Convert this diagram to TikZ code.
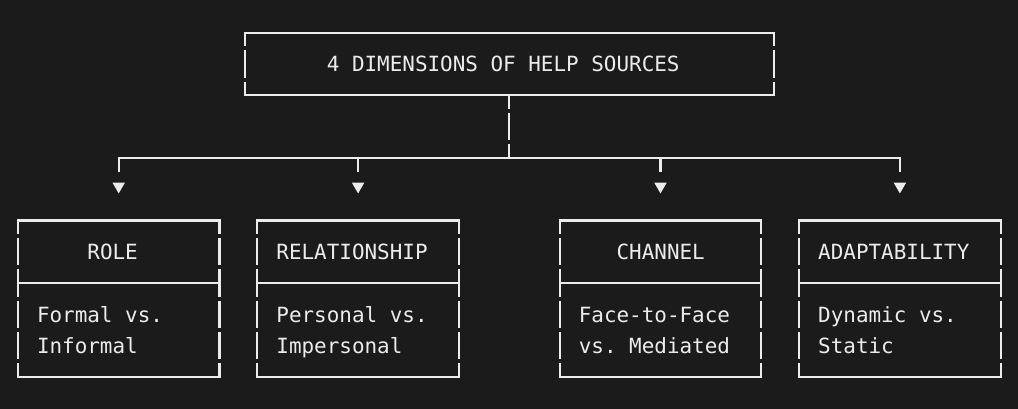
\documentclass[tikz,border=0pt]{standalone}
\usepackage{fontspec}
\setmonofont{DejaVu Sans Mono}
\usetikzlibrary{shapes.geometric}
\definecolor{bgdark}{RGB}{27,27,27}
\definecolor{ink}{RGB}{236,236,236}
\frenchspacing

\begin{document}
\begin{tikzpicture}[x=1pt, y=-1pt,
		boxline/.style={draw=ink, line width=2.2pt, line cap=rect},
		gapline/.style={draw=ink, line width=2.2pt, dash pattern=on 27.3pt off 4pt, dash phase=13.65pt},
		card/.style={rectangle, draw=none, inner sep=0pt, outer sep=0pt, minimum width=201.6pt, minimum height=156.5pt},
		arrowtip/.style={regular polygon, regular polygon sides=3, shape border rotate=180, fill=ink, inner sep=0pt, outer sep=0pt, minimum size=14.3pt},
		txt/.style={anchor=base west, inner sep=0pt, text=ink, font=\ttfamily\fontsize{20.93pt}{25pt}\selectfont}]
		
		% background
		\fill[bgdark] (0,0) rectangle (1018,409);
		\useasboundingbox (0,0) rectangle (1018,409);
		
		% title box
		\node[card, minimum width=529.2pt, minimum height=62.6pt] (title) at (509.3,64) {};
		\draw[boxline] (title.north west) -- (title.north east);
		\draw[boxline] (title.south west) -- (title.south east);
		\draw[gapline] (title.north west) -- (title.south west);
		\draw[gapline] (title.north east) -- (title.south east);
		\node[txt] (title-text) at (326.6,71.6) {4 DIMENSIONS OF HELP SOURCES};
		
		% trunk and bus
		\coordinate (busL) at (118.7,157.9);
		\coordinate (busR) at (899.9,157.9);
		\coordinate (sep) at (0,283.1);
		\draw[gapline] (title.south) -- (title.south |- busL);
		\draw[boxline] (busL) -- (busR);
		
		% the four dimensions
		\foreach \name/\cx/\hx/\bx/\head/\la/\lb in {
			role/118.7/87.2/36.8/ROLE/Formal vs./Informal,
			relationship/358.1/276.2/276.2/RELATIONSHIP/Personal vs./Impersonal,
			channel/660.5/616.4/578.6/CHANNEL/Face-to-Face/vs. Mediated,
			adaptability/899.9/818/818/ADAPTABILITY/Dynamic vs./Static}{
			\node[card] (\name) at (\cx,298.75) {};
			\node[arrowtip] (tip-\name) at (\cx,186.3) {};
			\draw[draw=ink, line width=2.2pt, shorten >=11.15pt] (\name.north |- busL) -- (tip-\name.north);
			\draw[boxline] (\name.north west) -- (\name.north east);
			\draw[boxline] (\name.west |- sep) -- (\name.east |- sep);
			\draw[boxline] (\name.south west) -- (\name.south east);
			\draw[gapline] (\name.north west) -- (\name.south west);
			\draw[gapline] (\name.north east) -- (\name.south east);
			\node[txt] (\name-head) at (\hx,259.4) {\head};
			\node[txt] (\name-a) at (\bx,322) {\la};
			\node[txt] (\name-b) at (\bx,353.3) {\lb};
		}
		
	\end{tikzpicture}
\end{document}
